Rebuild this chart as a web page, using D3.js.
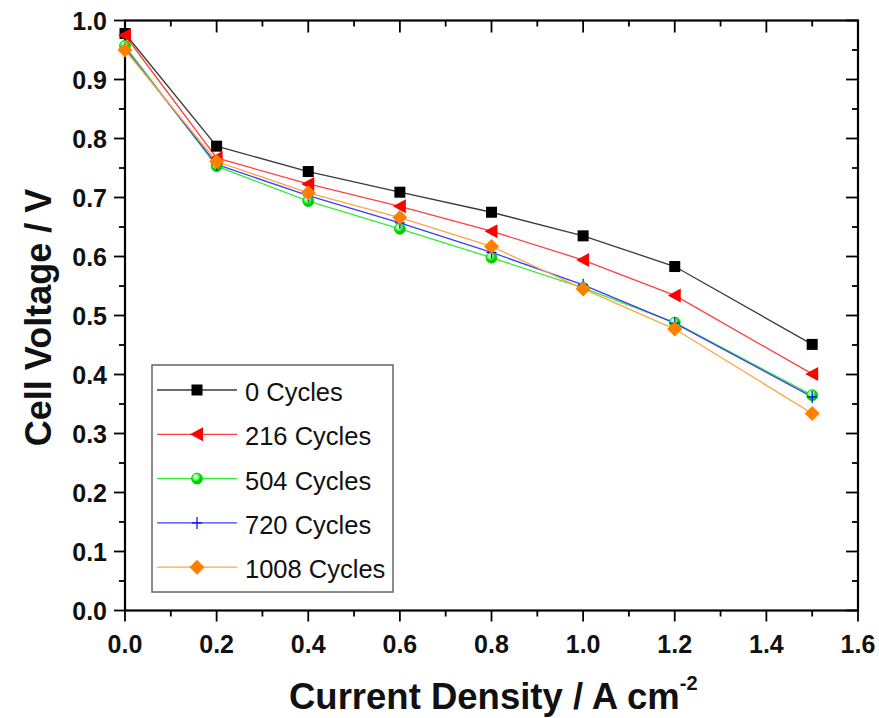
<!DOCTYPE html>
<html><head><meta charset="utf-8">
<script src="https://cdn.jsdelivr.net/npm/d3@7"></script>
<style>body{margin:0;background:#fff}svg{display:block}text{font-family:"Liberation Sans",Arial,sans-serif}</style>
</head><body>
<svg id="c" width="879" height="718"></svg>
<script>
const currentDensity = [0, 0.2, 0.4, 0.6, 0.8, 1.0, 1.2, 1.5];
const seriesNames = ["0 Cycles", "216 Cycles", "504 Cycles", "720 Cycles", "1008 Cycles"];
const v0 = [0.978, 0.787, 0.744, 0.709, 0.675, 0.635, 0.583, 0.451];
const v216 = [0.975, 0.767, 0.723, 0.685, 0.643, 0.594, 0.534, 0.401];
const v504 = [0.957, 0.753, 0.694, 0.647, 0.598, 0.547, 0.488, 0.365];
const v720 = [0.953, 0.756, 0.703, 0.657, 0.607, 0.552, 0.487, 0.362];
const v1008 = [0.950, 0.761, 0.708, 0.666, 0.617, 0.545, 0.477, 0.334];
const xTicks = [0, 0.2, 0.4, 0.6, 0.8, 1.0, 1.2, 1.4, 1.6];
const yTicks = [0, 0.1, 0.2, 0.3, 0.4, 0.5, 0.6, 0.7, 0.8, 0.9, 1.0];

const values = [v0, v216, v504, v720, v1008];
const styles = [
  {line:"#3a3a3a", fill:"#000000", shape:"square"},
  {line:"#ff4040", fill:"#ff0000", shape:"triangle"},
  {line:"#33ee33", fill:"#00e000", shape:"circle"},
  {line:"#3c3cff", fill:"#0000ff", shape:"plus"},
  {line:"#ffa646", fill:"#ff8000", shape:"diamond"}
];

const svg = d3.select("#c");
const L = 125, R = 858, T = 20.5, B = 610.5;
const x = d3.scaleLinear().domain([0, 1.6]).range([L, R]);
const y = d3.scaleLinear().domain([0, 1.0]).range([B, T]);

const defs = svg.append("defs");
const rg = defs.append("radialGradient").attr("id","gball").attr("cx","0.4").attr("cy","0.35").attr("r","0.65");
rg.append("stop").attr("offset","0").attr("stop-color","#ffffff");
rg.append("stop").attr("offset","0.3").attr("stop-color","#9cff9c");
rg.append("stop").attr("offset","0.6").attr("stop-color","#00e000");
rg.append("stop").attr("offset","1").attr("stop-color","#00c000");

// axes ticks
const minorX = d3.range(0, 17).map(i => i * 0.1);
const minorY = d3.range(0, 21).map(i => i * 0.05);
const ax = svg.append("g").attr("stroke","#000");
minorX.forEach((v,i) => {
  const major = i % 2 === 0;
  ax.append("line").attr("x1", x(v)).attr("x2", x(v)).attr("y1", B).attr("y2", B + (major ? 11 : 6)).attr("stroke-width", 1.8);
  ax.append("line").attr("x1", x(v)).attr("x2", x(v)).attr("y1", T).attr("y2", T + (major ? 12 : 6)).attr("stroke-width", 1.8);
});
minorY.forEach((v,i) => {
  const major = i % 2 === 0;
  ax.append("line").attr("x1", L - (major ? 11 : 6)).attr("x2", L).attr("y1", y(v)).attr("y2", y(v)).attr("stroke-width", 1.8);
  ax.append("line").attr("x1", R - (major ? 12 : 6)).attr("x2", R).attr("y1", y(v)).attr("y2", y(v)).attr("stroke-width", 1.8);
});
svg.append("rect").attr("x", L).attr("y", T).attr("width", R - L).attr("height", B - T)
  .attr("fill","none").attr("stroke","#000").attr("stroke-width", 2.2);

// tick labels
svg.append("g").selectAll("text").data(xTicks).join("text")
  .attr("x", d => x(d)).attr("y", 653).attr("text-anchor","middle")
  .attr("font-size", 25).attr("font-weight","bold").attr("fill","#111").text(d => d.toFixed(1));
svg.append("g").selectAll("text").data(yTicks).join("text")
  .attr("x", 107).attr("y", d => y(d) + 9).attr("text-anchor","end")
  .attr("font-size", 25).attr("font-weight","bold").attr("fill","#111").text(d => d.toFixed(1));

// titles
svg.append("text").attr("x", 289).attr("y", 709).attr("text-anchor","start")
  .attr("font-size", 36.5).attr("font-weight","bold").attr("fill","#111")
  .html('Current Density / A cm<tspan dy="-19" font-size="20">-2</tspan>');
svg.append("text").attr("transform","translate(51," + ((T + B) / 2 + 2) + ") rotate(-90)")
  .attr("text-anchor","middle").attr("font-size", 36).attr("font-weight","bold").attr("fill","#111").text("Cell Voltage / V");

function drawMarker(g, shape, st, cx, cy) {
  if (shape === "square") {
    g.append("rect").attr("x", cx - 5.5).attr("y", cy - 5.5).attr("width", 11).attr("height", 11).attr("fill", st.fill);
  } else if (shape === "triangle") {
    g.append("path").attr("d", `M${cx-7},${cy} L${cx+6},${cy-7} L${cx+6},${cy+7} Z`).attr("fill", st.fill);
  } else if (shape === "circle") {
    g.append("circle").attr("cx", cx).attr("cy", cy).attr("r", 5.5).attr("fill", "url(#gball)").attr("stroke","#00d000").attr("stroke-width",0.8);
  } else if (shape === "plus") {
    g.append("line").attr("x1", cx).attr("x2", cx).attr("y1", cy - 6).attr("y2", cy + 6).attr("stroke", st.fill).attr("stroke-width", 1.2);
    g.append("line").attr("x1", cx - 5).attr("x2", cx + 5).attr("y1", cy).attr("y2", cy).attr("stroke", st.fill).attr("stroke-width", 1.2);
  } else if (shape === "diamond") {
    g.append("path").attr("d", `M${cx},${cy-7.5} L${cx+7.5},${cy} L${cx},${cy+7.5} L${cx-7.5},${cy} Z`).attr("fill", st.fill);
  }
}

const line = d3.line().x((d,i) => x(currentDensity[i])).y(d => y(d));
const plot = svg.append("g");
values.forEach((vals, s) => {
  plot.append("path").datum(vals).attr("d", line).attr("fill","none")
    .attr("stroke", styles[s].line).attr("stroke-width", 1.3);
});
values.forEach((vals, s) => {
  const g = plot.append("g");
  vals.forEach((v, i) => drawMarker(g, styles[s].shape, styles[s], x(currentDensity[i]), y(v)));
});

// legend
const lg = svg.append("g");
lg.append("rect").attr("x", 152).attr("y", 365).attr("width", 241).attr("height", 227)
  .attr("fill","#fff").attr("stroke","#666").attr("stroke-width", 1.5);
seriesNames.forEach((name, s) => {
  const yy = 390 + s * 44.3;
  lg.append("line").attr("x1", 157).attr("x2", 237).attr("y1", yy).attr("y2", yy)
    .attr("stroke", styles[s].line).attr("stroke-width", 1.3);
  drawMarker(lg, styles[s].shape, styles[s], 197, yy);
  lg.append("text").attr("x", 245).attr("y", yy + 11).attr("font-size", 25.5).attr("fill","#111").text(name);
});
</script>
</body></html>
